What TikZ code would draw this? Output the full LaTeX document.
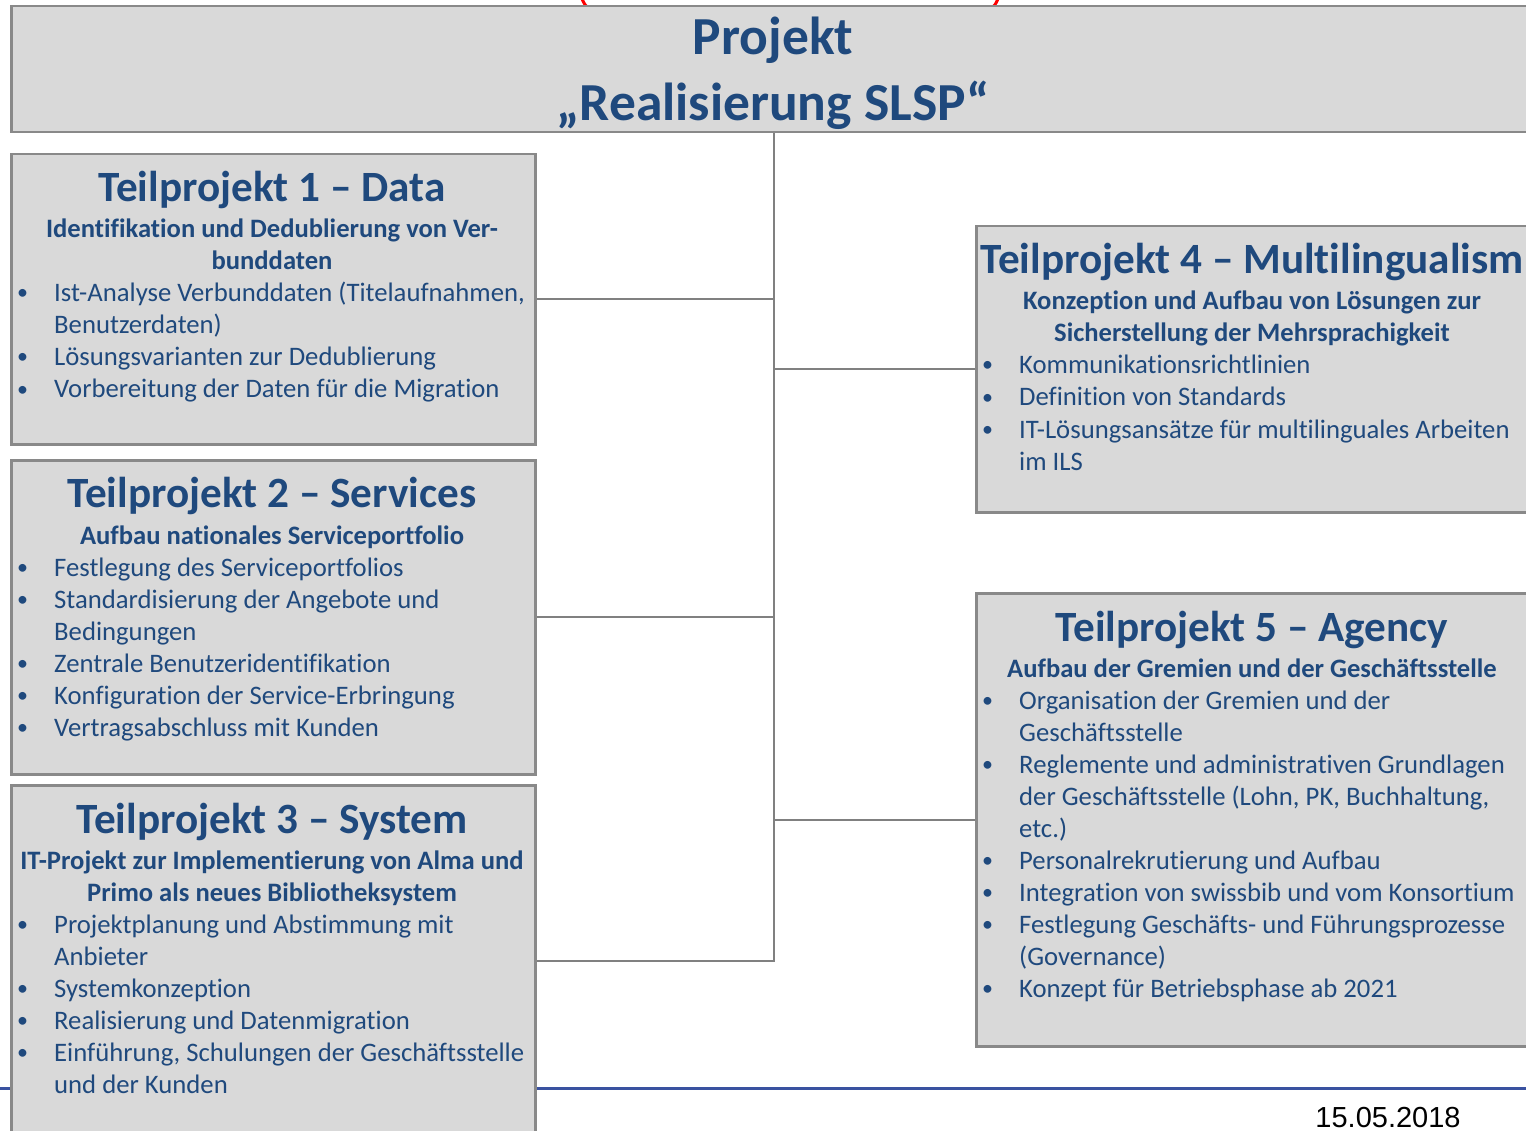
\documentclass[tikz,border=0pt]{standalone}
\usepackage{fontspec}
\setmainfont{Carlito}[Ligatures={NoCommon}]
\newfontfamily\datefont{Liberation Sans}
\definecolor{tblue}{HTML}{1F497D}
\definecolor{boxfill}{HTML}{D9D9D9}
\definecolor{boxline}{HTML}{898989}
\definecolor{connline}{HTML}{808080}
\definecolor{rulecol}{HTML}{3A52A0}
\tikzset{
  boxstyle/.style={draw=boxline, fill=boxfill, line width=2.5pt, inner sep=0pt, anchor=north west, rectangle},
  conn/.style={draw=connline, line width=2pt},
  titletext/.style={anchor=base, inner sep=0pt, text=tblue, font=\fontsize{53.5}{64}\selectfont\bfseries},
  headtext/.style={anchor=base, inner sep=0pt, text=tblue, font=\fontsize{43.2}{50}\selectfont\bfseries},
  subtext/.style={anchor=base, inner sep=0pt, text=tblue, font=\fontsize{26.6}{32}\selectfont\bfseries},
  itemtext/.style={anchor=base west, inner sep=0pt, text=tblue, font=\fontsize{26.7}{32}\selectfont},
  datetext/.style={anchor=base, inner sep=0pt, text=black, font=\datefont\fontsize{29}{34}\selectfont},
}
\newcommand\itemlist[4]{%
  \foreach \fb/\ft [count=\ci] in {#4} {%
    \node[itemtext] (#1-t\ci) at (#2+32, #3+32*\ci-32) {\ft};
    \ifnum\fb=1 \node[itemtext, font=\fontsize{22}{32}\selectfont] (#1-b\ci) at (#2-5, #3+32*\ci-34) {•};\fi
  }}
\newcommand\centerlines[4]{%
  \foreach \ft [count=\ci] in {#4} {%
    \node[subtext] (#1-\ci) at (#2, #3+32*\ci-32) {\ft};
  }}
\begin{document}
\begin{tikzpicture}[x=1pt, y=-1pt]
\useasboundingbox (0,0) rectangle (1526,1131);
\clip (0,0) rectangle (1526,1131);
\fill[white] (0,0) rectangle (1526,1131);

% red fragment above the main box
\draw[red, line width=3pt, rounded corners=22pt] (581,-60) rectangle (999,14);

% blue rule behind box 3
\coordinate (ruleL) at (0,1088);
\coordinate (ruleR) at (1526,1088);
\draw[rulecol, line width=3pt] (ruleL) -- (ruleR);

% boxes
\node[boxstyle, minimum width=1526pt, minimum height=126pt] (main) at (10,5) {};
\node[boxstyle, minimum width=524pt, minimum height=290pt] (tp1) at (10,153) {};
\node[boxstyle, minimum width=524pt, minimum height=314pt] (tp2) at (10,459) {};
\node[boxstyle, minimum width=524pt, minimum height=352pt] (tp3) at (10,784) {};
\node[boxstyle, minimum width=554pt, minimum height=286pt] (tp4) at (975,225) {};
\node[boxstyle, minimum width=554pt, minimum height=453pt] (tp5) at (975,592) {};

% connectors
\draw[conn] (main.south) -- (main.south |- tp3.east) -- (tp3.east);
\draw[conn] (tp1.east) -- (tp1.east -| main.south);
\draw[conn] (tp2.east) -- (tp2.east -| main.south);
\draw[conn] (tp4.west) -- (tp4.west -| main.south);
\draw[conn] (tp5.west) -- (tp5.west -| main.south);

% title
\node[titletext] (title1) at (773,55) {Projekt};
\node[titletext] (title2) at (773,121) {„Realisierung SLSP“};

% Teilprojekt 1
\node[headtext] (h1) at (272,202) {Teilprojekt 1 – Data};
\centerlines{s1}{272}{238}{{Identifikation und Dedublierung von Ver-},{bunddaten}}
\itemlist{i1}{22}{302}{1/{Ist-Analyse Verbunddaten (Titelaufnahmen,},0/{Benutzerdaten)},1/{Lösungsvarianten zur Dedublierung},1/{Vorbereitung der Daten für die Migration}}

% Teilprojekt 2
\node[headtext] (h2) at (272,507) {Teilprojekt 2 – Services};
\centerlines{s2}{272}{544}{{Aufbau nationales Serviceportfolio}}
\itemlist{i2}{22}{576}{1/{Festlegung des Serviceportfolios},1/{Standardisierung der Angebote und},0/{Bedingungen},1/{Zentrale Benutzeridentifikation},1/{Konfiguration der Service-Erbringung},1/{Vertragsabschluss mit Kunden}}

% Teilprojekt 3
\node[headtext] (h3) at (272,833) {Teilprojekt 3 – System};
\centerlines{s3}{272}{869}{{IT-Projekt zur Implementierung von Alma und},{Primo als neues Bibliotheksystem}}
\itemlist{i3}{22}{933}{1/{Projektplanung und Abstimmung mit},0/{Anbieter},1/{Systemkonzeption},1/{Realisierung und Datenmigration},1/{Einführung, Schulungen der Geschäftsstelle},0/{und der Kunden}}

% Teilprojekt 4
\node[headtext] (h4) at (1252,274) {Teilprojekt 4 – Multilingualism};
\centerlines{s4}{1252}{310}{{Konzeption und Aufbau von Lösungen zur},{Sicherstellung der Mehrsprachigkeit}}
\itemlist{i4}{987}{374}{1/{Kommunikationsrichtlinien},1/{Definition von Standards},1/{IT-Lösungsansätze für multilinguales Arbeiten},0/{im ILS}}

% Teilprojekt 5
\node[headtext] (h5) at (1252,641) {Teilprojekt 5 – Agency};
\centerlines{s5}{1252}{677}{{Aufbau der Gremien und der Geschäftsstelle}}
\itemlist{i5}{987}{709}{1/{Organisation der Gremien und der},0/{Geschäftsstelle},1/{Reglemente und administrativen Grundlagen},0/{der Geschäftsstelle (Lohn, PK, Buchhaltung,},0/{etc.)},1/{Personalrekrutierung und Aufbau},1/{Integration von swissbib und vom Konsortium},1/{Festlegung Geschäfts- und Führungsprozesse},0/{(Governance)},1/{Konzept für Betriebsphase ab 2021}}

% date
\node[datetext] (date) at (1388,1127) {15.05.2018};
\end{tikzpicture}
\end{document}
